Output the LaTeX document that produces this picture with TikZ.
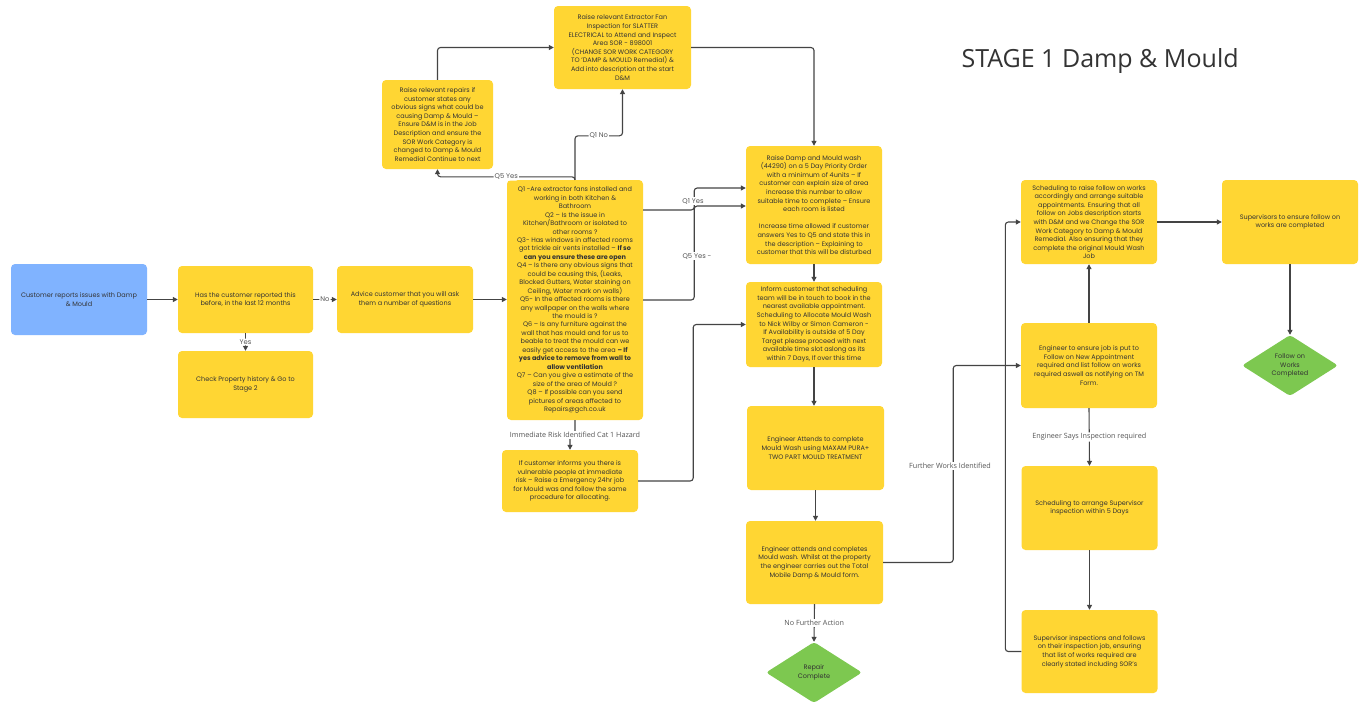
\documentclass[tikz,border=0pt]{standalone}
\usepackage{fontspec}
\setmainfont{Poppins}
\newfontfamily\opensans{Open Sans}
\usetikzlibrary{arrows.meta,shapes.geometric,calc}
\definecolor{boxyellow}{HTML}{FFD633}
\definecolor{boxblue}{HTML}{80B3FF}
\definecolor{boxgreen}{HTML}{7DC850}
\definecolor{textgray}{HTML}{333333}
\definecolor{linegray}{HTML}{444444}
\definecolor{labelgray}{HTML}{555555}
\begin{document}
\begin{tikzpicture}[x=1pt,y=-1pt,
  ybox/.style={fill=boxyellow, rounded corners=4pt, align=center, font=\fontsize{6.5}{8.6}\selectfont, text=textgray, inner sep=1pt, minimum width=136, minimum height=84},
  bbox/.style={ybox, fill=boxblue},
  gdia/.style={diamond, fill=boxgreen, rounded corners=3pt, align=center, font=\fontsize{6.5}{8.6}\selectfont, text=textgray, inner sep=0pt, minimum width=96, minimum height=61},
  arr/.style={draw=linegray, line width=1.1pt, -{Triangle[length=5pt,width=5pt]}, rounded corners=3pt},
  lbl/.style={fill=white, inner sep=1pt, font=\opensans\fontsize{7.2}{8}\selectfont, text=labelgray},
  qlbl/.style={lbl, font=\fontsize{6.8}{8}\selectfont}]
\fill[white] (0,0) rectangle (1370,724);
\useasboundingbox (0,0) rectangle (1370,724);

% title
\node[font=\opensans\fontsize{25}{30}\selectfont, text=textgray, anchor=west] (title) at (958,61) {STAGE 1 Damp \& Mould};

% nodes
\node[bbox, minimum width=136, minimum height=71] (cust) at (79,299.5) {Customer reports issues with Damp\\ \& Mould};
\node[ybox, minimum width=135, minimum height=67] (has) at (245.5,299.5) {Has the customer reported this\\before, in the last 12 months};
\node[ybox, minimum width=135, minimum height=67] (check) at (245.5,384.5) {Check Property history \& Go to\\Stage 2};
\node[ybox, minimum width=136, minimum height=67] (advice) at (405,299.5) {Advice customer that you will ask\\them a number of questions};

\node[ybox, minimum width=136, minimum height=240, font=\fontsize{6.5}{8.45}\selectfont] (Q) at (575,300) {Q1 -Are extractor fans installed and\\working in both Kitchen \&\\Bathroom\\Q2 – Is the issue in\\Kitchen/Bathroom or isolated to\\other rooms ?\\Q3- Has windows in affected rooms\\got trickle air vents installed – \textbf{If so}\\\textbf{can you ensure these are open}\\Q4 – Is there any obvious signs that\\could be causing this, (Leaks,\\Blocked Gutters, Water staining on\\Ceiling, Water mark on walls)\\Q5- In the affected rooms is there\\any wallpaper on the walls where\\the mould is ?\\Q6 – Is any furniture against the\\wall that has mould and for us to\\beable to treat the mould can we\\easily get access to the area \textbf{– If}\\\textbf{yes advice to remove from wall to}\\\textbf{allow ventilation}\\Q7 – Can you give a estimate of the\\size of the area of Mould ?\\Q8 – If possible can you send\\pictures of areas affected to\\Repairs@gch.co.uk};

\node[ybox, minimum width=136, minimum height=62] (imm) at (570,481) {If customer informs you there is\\vulnerable people at immediate\\risk – Raise a Emergency 24hr job\\for Mould was and follow the same\\procedure for allocating.};

\node[ybox, minimum width=111, minimum height=89] (repairs) at (437.5,124.5) {Raise relevant repairs if\\customer states any\\obvious signs what could be\\causing Damp \& Mould –\\Ensure D\&M is in the Job\\Description and ensure the\\SOR Work Category is\\changed to Damp \& Mould\\Remedial Continue to next};

\node[ybox, minimum width=137, minimum height=83] (fan) at (622.5,47.5) {Raise relevant Extractor Fan\\Inspection for SLATTER\\ELECTRICAL to Attend and Inspect\\Area SOR - 898001\\(CHANGE SOR WORK CATEGORY\\TO 'DAMP \& MOULD Remedial) \&\\Add into description at the start\\D\&M};

\node[ybox, minimum width=136, minimum height=118] (damp) at (814,205) {Raise Damp and Mould wash\\(44290) on a 5 Day Priority Order\\with a minimum of 4units – If\\customer can explain size of area\\increase this number to allow\\suitable time to complete – Ensure\\each room is listed\\[8.6pt]Increase time allowed if customer\\answers Yes to Q5 and state this in\\the description – Explaining to\\customer that this will be disturbed};

\node[ybox, minimum width=136, minimum height=85] (inform) at (814,324.5) {Inform customer that scheduling\\team will be in touch to book in the\\nearest available appointment.\\Scheduling to Allocate Mould Wash\\to Nick Wilby or Simon Cameron -\\If Availability is outside of 5 Day\\Target please proceed with next\\available time slot aslong as its\\within 7 Days, If over this time};

\node[ybox, minimum width=137, minimum height=84] (eng1) at (815.5,448) {Engineer Attends to complete\\Mould Wash using MAXAM PURA+\\TWO PART MOULD TREATMENT};

\node[ybox, minimum width=137, minimum height=83] (eng2) at (814.5,562.5) {Engineer attends and completes\\Mould wash. Whilst at the property\\the engineer carries out the Total\\Mobile Damp \& Mould form.};

\node[gdia] (repair) at (814,672.5) {Repair\\Complete};

\node[ybox, minimum width=136, minimum height=84] (schedR) at (1089,222) {Scheduling to raise follow on works\\accordingly and arrange suitable\\appointments. Ensuring that all\\follow on Jobs description starts\\with D\&M and we Change the SOR\\Work Category to Damp \& Mould\\Remedial. Also ensuring that they\\complete the original Mould Wash\\Job};

\node[ybox, minimum width=136, minimum height=84] (superv) at (1290,222) {Supervisors to ensure follow on\\works are completed};

\node[gdia] (follow) at (1290,365.5) {Follow on\\Works\\Completed};

\node[ybox, minimum width=136, minimum height=85] (engEnsure) at (1089,365.5) {Engineer to ensure job is put to\\Follow on New Appointment\\required and list follow on works\\required aswell as notifying on TM\\Form.};

\node[ybox, minimum width=136, minimum height=84] (schedA) at (1089.5,508) {Scheduling to arrange Supervisor\\inspection within 5 Days};

\node[ybox, minimum width=136, minimum height=83] (supInsp) at (1089.5,651.5) {Supervisor inspections and follows\\on their inspection job, ensuring\\that list of works required are\\clearly stated including SOR's};

% connectors
\draw[arr] (cust) -- (has);
\draw[arr] (has) -- (advice) node[qlbl, midway] {No};
\draw[arr] (has) -- (check) node[qlbl, midway] {Yes};
\draw[arr] (advice) -- (Q.west |- advice.east);

\draw[arr] (Q.north) -- ++(0,-44) -| (fan.south) node[qlbl, pos=0.25] {Q1 No};
\draw[arr] (Q.north) -- ++(0,-3) -| (repairs.south) node[qlbl, pos=0.25] {Q5 Yes};
\draw[arr] (repairs.north) |- (fan.west);
\draw[arr] (fan.east) -| (damp.north);

\draw[arr] ($(Q.east)+(0,-90)$) -- ++(51,0) |- ($(damp.west)+(0,-17)$);
\draw[arr] (Q.east) -- ++(51,0) |- ($(damp.west)+(0,1)$);
\node[qlbl] (q1yes) at (693,201) {Q1 Yes};
\node[qlbl] (q5yes) at (697,256) {Q5 Yes -};

\draw[arr] (Q.south) -- ++(0,15) -| (imm.north);
\node[lbl] (immlbl) at (575,435) {Immediate Risk Identified Cat 1 Hazard};
\draw[arr] (imm.east) -- ++(55,0) |- (inform.west);

\draw[arr] (damp.south) -- (inform.north);
\draw[arr] (inform.south) -- (inform.south |- eng1.north);
\draw[arr] (eng1.south) -- (eng1.south |- eng2.north);
\draw[arr] (eng2.south) -- (repair.north) node[lbl, midway] {No Further Action};

\draw[arr] (eng2.east) -- ++(70,0) |- (engEnsure.west);
\node[lbl] (fwlbl) at (950,466) {Further Works Identified};
\draw[arr] (supInsp.west) -- ++(-16,0) |- (schedR.west);
\draw[arr] (engEnsure.north) -- (schedR.south);
\draw[arr] (engEnsure.south) -- (schedA.north) node[lbl, midway] {Engineer Says Inspection required};
\draw[arr] (schedA.south) -- (supInsp.north);
\draw[arr] (schedR.east) -- (superv.west);
\draw[arr] (superv.south) -- (follow.north);
\end{tikzpicture}
\end{document}
